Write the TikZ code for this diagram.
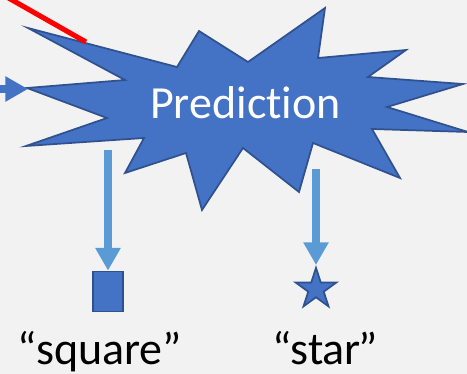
\documentclass[tikz,border=0pt]{standalone}
\usepackage{fontspec}
\setmainfont{Carlito}[Ligatures={NoCommon, NoRare, NoDiscretionary}]
\usepackage{tikz}
\usetikzlibrary{shapes.geometric, arrows.meta, positioning}
\definecolor{burstblue}{HTML}{4472C4}
\definecolor{burstedge}{HTML}{2F528F}
\definecolor{arrowblue}{HTML}{5B9BD5}
\definecolor{bggray}{HTML}{F2F2F2}

\begin{document}
\begin{tikzpicture}[
    x=0.75pt, y=-0.75pt,
    burst/.style={draw=burstedge, fill=burstblue, line width=1.3pt, line join=miter},
    shapebox/.style={draw=burstedge, fill=burstblue, line width=1.3pt, rectangle, minimum width=23pt, minimum height=30pt, inner sep=0pt},
    starshape/.style={draw=burstedge, fill=burstblue, line width=1.3pt, star, star points=5, star point ratio=2.618, minimum size=32pt, inner sep=0pt},
    label/.style={font=\fontsize{34.5}{40}\selectfont, anchor=base},
    arr/.style={-{Triangle[width=18pt, length=17pt]}, line width=6pt, arrowblue},
    inarr/.style={-{Triangle[width=18pt, length=17pt]}, line width=6pt, burstblue}
]
% background and margins
\fill[bggray] (0,0) rectangle (467,374);
\useasboundingbox (0,0) rectangle (467,374);

% the explosion shape
\draw[burst] (28,28) -- (177,67) -- (199,31) -- (248,62) -- (325,8) -- (318,58)
    -- (406,50) -- (368,77) -- (463,84) -- (387,107) -- (468,132) -- (372,129)
    -- (400,178) -- (313,143) -- (299,192) -- (243,148) -- (202,210) -- (186,153)
    -- (125,173) -- (144,138) -- (26,146) -- (107,118) -- (27,88) -- (125,80) -- cycle;
\node[label, text=white] (pred) at (245.5,118) {Prediction};

\coordinate (inL) at (-5,89);
\coordinate (tipL) at (28,89);
\coordinate (redA) at (5,-4);
\coordinate (redB) at (86,42);
\coordinate (outL) at (108,150);
\coordinate (outR) at (316,169);

\node[shapebox] (sq) at (108,291.5) {};
\node[starshape, anchor=north] (st) at (316,265) {};

\node[label] (sqlabel) at (100,364) {“square”};
\node[label] (stlabel) at (325,364) {“star\kern-2pt”};

\draw[inarr] (inL) -- (tipL);
\draw[red, line width=3.8pt] (redA) -- (redB);
\draw[arr] (outL) -- (sq.north);
\draw[arr] (outR) -- (st.north);

\end{tikzpicture}
\end{document}
